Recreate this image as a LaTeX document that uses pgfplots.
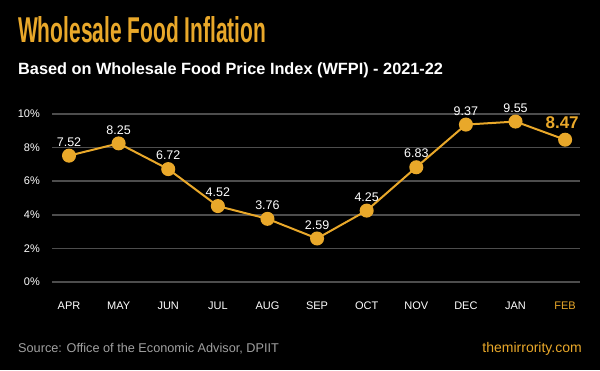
\documentclass[border=0pt]{standalone}
\usepackage{pgfplots}
\pgfplotsset{compat=1.18}
\usepackage{fontspec}
\setmainfont{Liberation Sans}
\definecolor{wfo}{HTML}{E9A82A}
\definecolor{gridc}{HTML}{4D4D4D}
\definecolor{srcc}{HTML}{A0A0A0}
\begin{document}
\begin{tikzpicture}[x=1pt,y=1pt]
\fill[black] (0,0) rectangle (600,370);
\node[anchor=base west, inner sep=0pt, text=wfo] at (18,327) {\resizebox{248pt}{26pt}{\bfseries Wholesale Food Inflation}};
\node[anchor=base west, inner sep=0pt, text=white, font=\fontsize{16.3}{18}\selectfont\bfseries] at (18,295) {Based on Wholesale Food Price Index (WFPI) - 2021-22};
\node[anchor=base west, inner sep=0pt, text=srcc, font=\fontsize{12.7}{15}\selectfont] at (18,18) {Source: Office of the Economic Advisor, DPIIT};
\node[anchor=base east, inner sep=0pt, text=wfo, font=\fontsize{14}{15}\selectfont] at (582,18) {themirrority.com};
\begin{axis}[
  at={(52pt,88pt)}, anchor=south west,
  scale only axis, width=528pt, height=168pt,
  xmin=-0.343, xmax=10.3, ymin=0, ymax=10,
  axis line style={draw=none},
  major tick length=0pt,
  ytick={0,2,4,6,8,10},
  yticklabels={0\%,2\%,4\%,6\%,8\%,10\%},
  xtick={0,...,10},
  xticklabels={APR,MAY,JUN,JUL,AUG,SEP,OCT,NOV,DEC,JAN,\textcolor{wfo}{FEB}},
  ymajorgrids, major grid style={gridc, line width=1.5pt},
  y tick label style={anchor=east, inner sep=0pt, xshift=-12pt, text=white, font=\fontsize{11}{13}\selectfont},
  x tick label style={anchor=north, inner sep=0pt, yshift=-20pt, text=white, font=\fontsize{11}{13}\selectfont},
  clip=false,
]
\addplot[wfo, line width=2pt, mark=*, mark size=6pt, mark options={fill=wfo, draw=wfo}] coordinates {
(0,7.52) (1,8.25) (2,6.72) (3,4.52) (4,3.76) (5,2.59) (6,4.25) (7,6.83) (8,9.37) (9,9.55) (10,8.47)};
\addplot[draw=none, nodes near coords, point meta=explicit symbolic,
  every node near coord/.append style={text=white, anchor=south, inner sep=0pt, yshift=9pt, font=\fontsize{12.5}{14}\selectfont}] coordinates {
(0,7.52) [7.52] (1,8.25) [8.25] (2,6.72) [6.72] (3,4.52) [4.52] (4,3.76) [3.76] (5,2.59) [2.59] (6,4.25) [4.25] (7,6.83) [6.83] (8,9.37) [9.37] (9,9.55) [9.55]};
\addplot[draw=none, nodes near coords, point meta=explicit symbolic,
  every node near coord/.append style={text=wfo, anchor=south, inner sep=0pt, yshift=11pt, xshift=-3pt, font=\fontsize{17}{19}\selectfont\bfseries}] coordinates {
(10,8.47) [8.47]};
\end{axis}
\end{tikzpicture}
\end{document}
